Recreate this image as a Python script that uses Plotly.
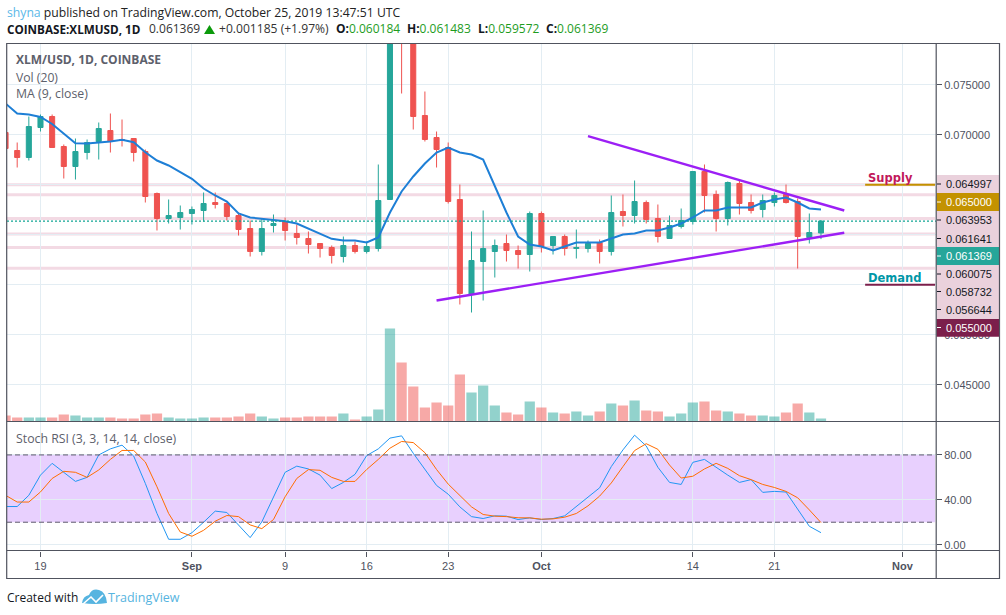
import plotly.graph_objects as go
import pandas as pd

W = 1006
H = 615

dates = pd.date_range("2019-08-16", "2019-10-25").strftime("%Y-%m-%d").tolist()

opens = [.07023,.06843,.06773,.07073,.07183,.06883,.06683,.06823,.06933,.07043,.06953,.06963,.06833,.06413,
         .06163,.06173,.06213,.06243,.06323,.06313,.06193,.06063,.05833,.06093,.06133,.06013,.05963,.05913,
         .05873,.05783,.05893,.05833,.05863,.06353,.0820,.0805,.07193,.06973,.06873,.06353,.05403,.05733,
         .05833,.05913,.05843,.05803,.06213,.05893,.05983,.05863,.05863,.05923,.05833,.06233,.06193,.06323,
         .06163,.05963,.06083,.06133,.06633,.06403,.06163,.06513,.06323,.06253,.06323,.06403,.06333,.05973,.06018]
highs = [.07063,.06923,.07183,.07203,.07203,.06903,.06963,.06953,.07123,.07213,.07153,.06963,.06853,.06423,
         .06353,.06293,.06283,.06423,.06423,.06323,.06223,.06143,.06163,.06203,.06173,.06103,.06033,.05913,
         .05893,.05983,.05933,.05933,.06703,.0835,.0830,.0810,.07433,.07033,.06923,.06503,.06033,.06243,
         .05953,.06003,.05893,.06233,.06233,.05983,.06003,.06053,.05943,.05953,.06393,.06403,.06543,.06343,
         .06303,.06193,.06263,.06633,.06703,.06443,.06533,.06553,.06403,.06403,.06423,.06503,.06363,.06213,.06148]
lows = [.06843,.06673,.06743,.07033,.06873,.06563,.06553,.06753,.06753,.06823,.06883,.06733,.06323,.06043,
        .06113,.06053,.06103,.06133,.06263,.06143,.05993,.05783,.05793,.06023,.05943,.05903,.05813,.05773,
        .05713,.05723,.05813,.05813,.05833,.06353,.07413,.07053,.06933,.06673,.06313,.05303,.05223,.05343,
        .05573,.05733,.05663,.05633,.05823,.05803,.05793,.05763,.05823,.05713,.05793,.06083,.06113,.06113,
        .05923,.05963,.06063,.06103,.06223,.06033,.06093,.06203,.06213,.06173,.06283,.06313,.05663,.05913,.05957]
closes = [.06863,.06773,.07083,.07183,.06873,.06683,.06833,.06923,.07063,.06933,.06943,.06823,.06383,.06163,
          .06193,.06223,.06253,.06313,.06303,.06183,.06053,.05833,.06063,.06113,.06043,.05973,.05903,.05863,
          .05793,.05893,.05833,.05883,.06343,.0815,.0800,.07183,.06953,.06853,.06333,.05413,.05743,.05863,
          .05893,.05843,.05803,.06213,.05883,.05983,.05863,.05873,.05913,.05833,.06223,.06193,.06333,.06153,
          .05983,.06093,.06143,.06633,.06393,.06163,.06523,.06313,.06243,.06343,.06393,.06323,.05983,.06023,.06137]

ma9 = [.07313,.07213,.07203,.07178,.07108,.07013,.06916,.06913,.06920,.06933,.06950,.06926,.06826,.06743,
       .06693,.06626,.06560,.06463,.06393,.06333,.06213,.06173,.06163,.06150,.06136,.06113,.06060,.06010,
       .05960,.05943,.05943,.05923,.05973,.06223,.06433,.06583,.06713,.06823,.06873,.06823,.06803,.06753,
       .06493,.06223,.05983,.05903,.05883,.05843,.05883,.05923,.05923,.05923,.05963,.06003,.06013,.06043,
       .06043,.06073,.06113,.06173,.06243,.06243,.06273,.06273,.06273,.06323,.06353,.06373,.06323,.06263,.06253]

volumes = [6,4,4,4,4,7,6,4,4,4,3,3,7,8,4,3,3,4,4,4,5,8,5,3,4,4,5,5,5,8,2,5,12,93,59,35,14,19,16,47,29,36,
           16,9,7,20,14,9,8,10,6,10,18,16,21,11,10,5,8,19,20,11,10,8,6,6,5,9,18,9,3]

stoch_k = [34,34,44,62,72.5,64.5,56.4,60,80,85.4,88.7,79,54.6,27.8,4.8,4.8,10.7,20,29.9,28.7,17.3,6.3,20.3,42.7,
           64.5,70,67.5,62,50,55.5,62.7,79.4,85.4,95,97,81.5,66.6,52.8,45,33.7,25,23.3,25.7,25.4,22.4,23.9,22.4,
           23.3,25.7,34.3,42.4,50.7,69.6,84.5,97.6,88,69,55.5,53.7,73.4,76,68.7,62,55.5,58,46.6,47.5,46.9,31.6,16.4,10.7]
stoch_d = [44,38,38,47,59,65.4,64.5,60,66.6,76,84,84,73.7,51.6,27.8,11.3,7.5,12.8,20.9,26,25,17.6,14.3,22.4,
           42.7,59,66.9,66.3,60,56.4,56.4,67,76,86,92,91,82,67,54,43.6,33.7,26.9,25.4,25,24,23.9,22.7,
           23,24.5,27.8,34.6,43.3,55,69.6,83.9,90,85,71,59.4,61,67.5,72.5,68,61.5,58,53.7,51,47.5,41.8,31,19.7]

level_prices = [.0650,.0640,.061641,.060075,.058732,.056644]
last_price = .061369
price_ticks = [.075,.070,.065,.060,.055,.050,.045]
# 0.065, 0.060 and 0.055 sit fully behind the scale boxes in the original
price_tick_text = ["0.075000","0.070000","","","","0.050000","0.045000"]

time_ticks = ["2019-08-19","2019-09-01","2019-09-09","2019-09-16","2019-09-23","2019-10-01","2019-10-14","2019-10-21","2019-11-01"]
time_text = ["19","<b>Sep</b>","9","16","23","<b>Oct</b>","14","21","<b>Nov</b>"]

trend_down_x = ["2019-10-05","2019-10-27"]
trend_down_y = [.06986,.06243]
trend_up_x = ["2019-09-22","2019-10-27"]
trend_up_y = [.05343,.06020]
zone_x = ["2019-10-28 19:00","2019-11-03 19:00"]
supply_y = [.0650,.0650]
demand_y = [.0550,.0550]

GREEN = "#26a69a"
RED = "#ef5350"
GRID = "#e3edf3"
FRAME = "#50535e"
GREY = "#5d606b"
SANS = "Open Sans"
AXIS_FONT = "Liberation Sans"
LOGO = "#56b4e0"
x_range = ["2019-08-16 03:00","2019-11-03 21:00"]

def px(x):
    return x/W

def py(y):
    return 1-y/H

fig = go.Figure()

vol_colors = []
for o,c in zip(opens,closes):
    if c>=o:
        vol_colors.append("rgba(38,166,154,0.5)")
    else:
        vol_colors.append("rgba(239,83,80,0.5)")

fig.add_trace(go.Bar(x=dates,y=volumes,marker=dict(color=vol_colors,line_width=0),yaxis="y2",xaxis="x"))
fig.add_trace(go.Candlestick(x=dates,open=opens,high=highs,low=lows,close=closes,xaxis="x",yaxis="y",
                             whiskerwidth=0,
                             increasing=dict(line=dict(color=GREEN,width=1),fillcolor=GREEN),
                             decreasing=dict(line=dict(color=RED,width=1),fillcolor=RED)))
fig.add_trace(go.Scatter(x=dates,y=ma9,mode="lines",line=dict(color="#1e7fd6",width=2),xaxis="x",yaxis="y"))
fig.add_trace(go.Scatter(x=x_range,y=[last_price,last_price],mode="lines",line=dict(color="#12a594",width=1.3,dash="2px,2px"),xaxis="x",yaxis="y"))
fig.add_trace(go.Scatter(x=trend_down_x,y=trend_down_y,mode="lines",line=dict(color="#9c1ff5",width=2.4),xaxis="x",yaxis="y"))
fig.add_trace(go.Scatter(x=trend_up_x,y=trend_up_y,mode="lines",line=dict(color="#9c1ff5",width=2.4),xaxis="x",yaxis="y"))
fig.add_trace(go.Scatter(x=zone_x,y=supply_y,mode="lines",line=dict(color="#c39200",width=2),xaxis="x",yaxis="y"))
fig.add_trace(go.Scatter(x=zone_x,y=demand_y,mode="lines",line=dict(color="#7b1f4b",width=2),xaxis="x",yaxis="y"))
fig.add_trace(go.Scatter(x=dates,y=stoch_k,mode="lines",line=dict(color="#2196f3",width=1),xaxis="x2",yaxis="y3"))
fig.add_trace(go.Scatter(x=dates,y=stoch_d,mode="lines",line=dict(color="#ff6d00",width=1),xaxis="x2",yaxis="y3"))

shapes = []
# support / resistance bands behind candles
for p in level_prices:
    shapes.append(dict(type="line",xref="paper",yref="y",x0=px(7),x1=px(935),y0=p,y1=p,layer="below",
                       line=dict(color="#f3dae4",width=3)))
# stoch rsi band
shapes.append(dict(type="rect",xref="paper",yref="y3",x0=px(7),x1=px(935),y0=20,y1=80,layer="below",
                   fillcolor="rgba(152,42,250,0.22)",line_width=0))
for lv in [20,80]:
    shapes.append(dict(type="line",xref="paper",yref="y3",x0=px(7),x1=px(935),y0=lv,y1=lv,layer="above",
                       line=dict(color="#5f5a6e",width=1,dash="5px,3px")))
# price scale boxes
shapes.append(dict(type="rect",xref="paper",yref="paper",x0=px(936.5),x1=px(999),y0=py(175),y1=py(319),
                   fillcolor="#ead1dc",line_width=0,layer="above"))
shapes.append(dict(type="rect",xref="paper",yref="paper",x0=px(936.5),x1=px(999),y0=py(193),y1=py(211),
                   fillcolor="#c39200",line_width=0,layer="above"))
shapes.append(dict(type="rect",xref="paper",yref="paper",x0=px(936.5),x1=px(999),y0=py(247),y1=py(265),
                   fillcolor=GREEN,line_width=0,layer="above"))
shapes.append(dict(type="rect",xref="paper",yref="paper",x0=px(936.5),x1=px(999),y0=py(319),y1=py(336.7),
                   fillcolor="#7b1f4b",line_width=0,layer="above"))
# frame
shapes.append(dict(type="rect",xref="paper",yref="paper",x0=px(6.7),x1=px(999.5),y0=py(43.5),y1=py(578.5),
                   line=dict(color=FRAME,width=1.2),layer="above"))
for yy in [421.5,550.5]:
    shapes.append(dict(type="line",xref="paper",yref="paper",x0=px(6.7),x1=px(999.5),y0=py(yy),y1=py(yy),
                       line=dict(color=FRAME,width=1.2),layer="above"))
shapes.append(dict(type="line",xref="paper",yref="paper",x0=px(936.2),x1=px(936.2),y0=py(43.5),y1=py(578.5),
                   line=dict(color=FRAME,width=1.2),layer="above"))
# tradingview logo, cloud with a white zigzag through it
cloud = "M %f %f Q %f %f %f %f Q %f %f %f %f Q %f %f %f %f Q %f %f %f %f Z" % (
    px(82),py(603),px(83),py(596),px(89),py(595),
    px(92),py(588),px(99),py(590),
    px(106),py(592),px(107),py(603),
    px(95),py(605),px(82),py(603))
shapes.append(dict(type="path",xref="paper",yref="paper",layer="above",fillcolor=LOGO,line_width=0,path=cloud))
zig = "M %f %f L %f %f L %f %f L %f %f" % (px(83),py(604),px(91),py(597),px(96),py(602),px(103),py(595))
shapes.append(dict(type="path",xref="paper",yref="paper",layer="above",line=dict(color="white",width=1.6),path=zig))
# up arrow in the header
arrow = "M %f %f L %f %f L %f %f Z" % (px(204),py(34),px(209.5),py(25),px(215),py(34))
shapes.append(dict(type="path",xref="paper",yref="paper",layer="above",fillcolor="#0b9a0b",line_width=0,path=arrow))

annotations = []

def text(x,y,s,color=GREY,size=12,font=SANS,anchor="left"):
    annotations.append(dict(xref="paper",yref="paper",x=px(x),y=py(y),text=s,showarrow=False,
                            xanchor=anchor,yanchor="middle",font=dict(color=color,size=size,family=font),
                            borderpad=0))

# header
text(6,12,"<span style='color:#5bb8e8'>shyna</span> published on TradingView.com, October 25, 2019 13:47:51 UTC",color="#222",size=12.2)
text(6,29,"<b>COINBASE:XLMUSD, 1D</b>",color="#131722",size=11.7)
text(148,29,"0.061369",color="#333",size=12)
text(218,29,"+0.001185 (+1.97%)",color="#333",size=12.1)
hdr = [(335,"O:","0.060184"),(406,"H:","0.061483"),(477,"L:","0.059572"),(545,"C:","0.061369")]
for xx,k,v in hdr:
    text(xx,29,"<span style='color:#131722'><b>%s</b></span>%s" % (k,v),color="#1e9c1e",size=12)

# pane legends
text(15,60,"<b>XLM/USD, 1D, COINBASE</b>",size=12)
text(15,77,"Vol (20)",size=12.2)
text(15,94,"MA (9, close)",size=12.3)
text(15,438,"Stoch RSI (3, 3, 14, 14, close)",size=12.3)

# price scale labels
labels = [(184,"0.064997","#131722"),(202,"0.065000","#ffffff"),(220,"0.063953","#131722"),(238.5,"0.061641","#131722"),
          (256,"0.061369","#ffffff"),(274,"0.060075","#131722"),(291.5,"0.058732","#131722"),(309.5,"0.056644","#131722"),
          (327.5,"0.055000","#ffffff")]
for yy,s,c in labels:
    text(945,yy,s,color=c,size=11,font=AXIS_FONT)
    shapes.append(dict(type="line",xref="paper",yref="paper",x0=px(937),x1=px(941),y0=py(yy),y1=py(yy),
                       line=dict(color=c,width=1),layer="above"))

text(867,178,"<b>Supply</b>",color="#c2185b",size=11.5,font="DejaVu Sans")
text(867,278,"<b>Demand</b>",color="#0097a7",size=11.5,font="DejaVu Sans")

# footer
text(6,597,"Created with",color="#131722",size=12)
text(107,597,"TradingView",color=LOGO,size=12.5)

fig.update_layout(
    width=W,height=H,margin=dict(l=0,r=0,t=0,b=0),paper_bgcolor="white",plot_bgcolor="white",
    showlegend=False,bargap=0.12,boxgap=0.38,shapes=shapes,annotations=annotations,
    xaxis=dict(domain=[px(7),px(936)],range=x_range,type="date",anchor="y",tickvals=time_ticks,ticktext=time_text,
               showticklabels=False,showgrid=True,gridcolor=GRID,gridwidth=1,ticks="",rangeslider=dict(visible=False),
               zeroline=False,showline=False),
    yaxis=dict(domain=[py(421.5),py(43.5)],range=[.04133,.07913],side="right",anchor="x",tickvals=price_ticks,
               ticktext=price_tick_text,tickfont=dict(family=AXIS_FONT,size=11,color="#4f5260"),ticks="outside",ticklen=5,
               tickcolor=FRAME,showgrid=True,gridcolor=GRID,gridwidth=1,zeroline=False,showline=False),
    yaxis2=dict(domain=[py(421.5),py(43.5)],range=[0,378],overlaying="y",side="right",anchor="x",visible=False),
    xaxis2=dict(domain=[px(7),px(936)],range=x_range,type="date",anchor="y3",tickvals=time_ticks,ticktext=time_text,
                tickfont=dict(family=AXIS_FONT,size=11,color="#4f5260"),ticks="outside",ticklen=5,tickcolor=FRAME,
                showgrid=True,gridcolor=GRID,gridwidth=1,zeroline=False,showline=False),
    yaxis3=dict(domain=[py(550.5),py(421.5)],range=[-5.2,109.8],side="right",anchor="x2",tickvals=[0,40,80],
                ticktext=["0.00","40.00","80.00"],tickfont=dict(family=AXIS_FONT,size=11,color="#4f5260"),ticks="outside",
                ticklen=5,tickcolor=FRAME,showgrid=True,gridcolor=GRID,gridwidth=1,zeroline=False,showline=False),
)

fig.write_html("out.html",config=dict(displayModeBar=False),post_script="document.body.style.margin='0';")
